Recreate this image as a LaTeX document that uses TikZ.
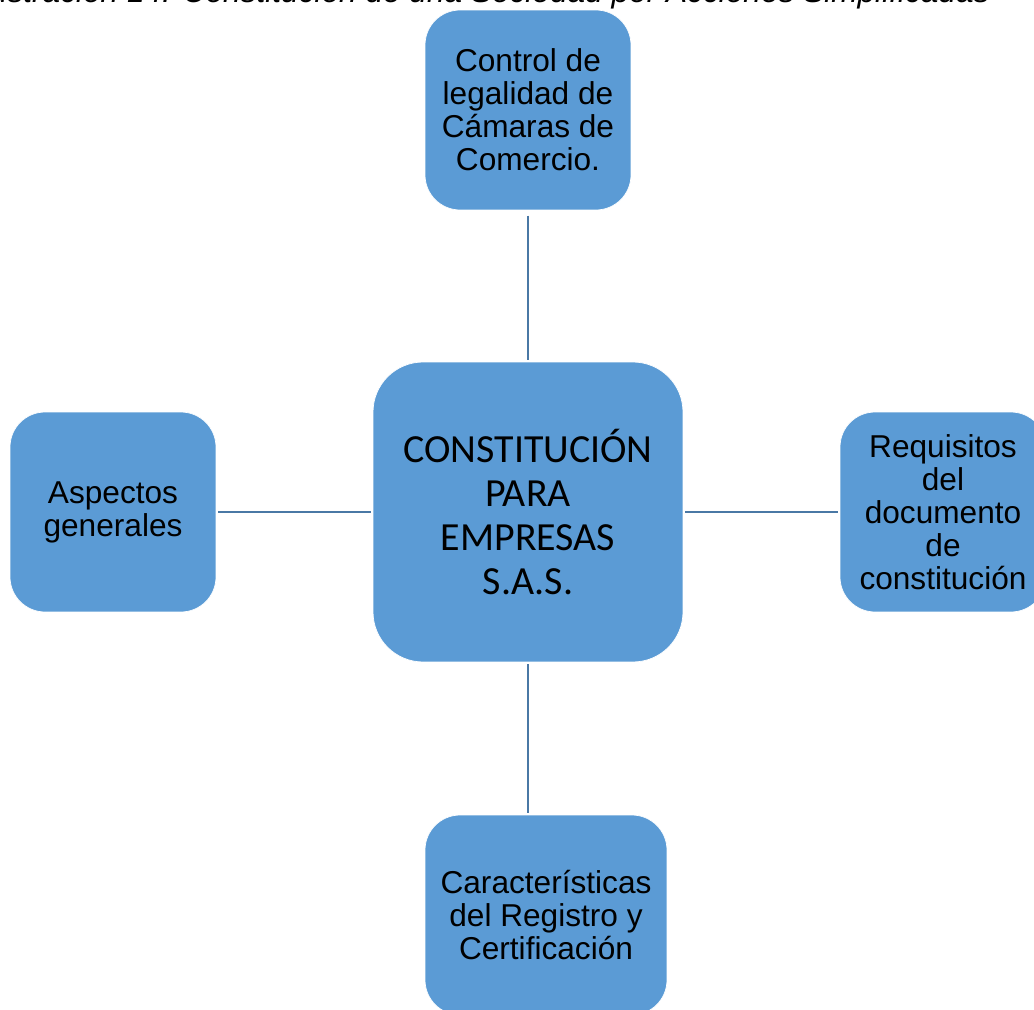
\documentclass[tikz,border=0pt]{standalone}
\usepackage{fontspec}
\setmainfont{Liberation Sans}
\newfontfamily\hubfont{Carlito}
\usepackage{xcolor}
\usetikzlibrary{positioning}

\definecolor{boxblue}{HTML}{5B9BD5}
\definecolor{linkblue}{RGB}{74,120,165}

\begin{document}
\begin{tikzpicture}[
    x=0.02cm, y=-0.02cm,
    topicbox/.style = {
        draw=white,
        line width=0.4pt,
        fill=boxblue,
        rounded corners=0.7cm,
        minimum width=4.12cm,
        minimum height=4cm,
        align=center,
        inner sep=2pt,
        font=\fontsize{18}{18.8}\selectfont
    },
    hubbox/.style = {
        topicbox,
        rounded corners=1cm,
        minimum width=6.2cm,
        minimum height=6cm,
        font=\hubfont\fontsize{22.7}{25}\selectfont
    },
    linkline/.style = {
        draw=linkblue,
        line width=1.1pt
    }
]
\useasboundingbox (0,0) rectangle (1034,1010);
\clip (0,0) rectangle (1034,1010);

% --- Titre (coupe en haut) ---
\node[anchor=base east, inner sep=0pt, font=\itshape\fontsize{18}{20}\selectfont] (caption) at (990,3)
    {Ilustración 14. Constitución de una Sociedad por Acciones Simplificadas};

% --- Noeud central ---
\node[hubbox] (hub) at (528,512) {CONSTITUCIÓN\\PARA\\EMPRESAS\\S.A.S.};

% --- Noeuds autour ---
\node[topicbox] (control) at (528,110) {Control de\\legalidad de\\Cámaras de\\Comercio.};
\node[topicbox] (aspectos) at (113,512) {Aspectos\\generales};
\node[topicbox] (requisitos) at (943,512) {Requisitos\\del\\documento\\de\\constitución};
\node[topicbox, minimum width=4.84cm] (registro) at (546,915) {Características\\del Registro y\\Certificación};

% --- Liaisons ---
\draw[linkline] ([yshift=-3pt]control.south) -- ([yshift=1pt]hub.north);
\draw[linkline] ([xshift=1pt]aspectos.east) -- ([xshift=-1pt]hub.west);
\draw[linkline] ([xshift=1pt]hub.east) -- ([xshift=-1pt]requisitos.west);
\draw[linkline] ([yshift=-1pt]hub.south) -- ([yshift=1pt]hub.south |- registro.north);

\end{tikzpicture}
\end{document}
